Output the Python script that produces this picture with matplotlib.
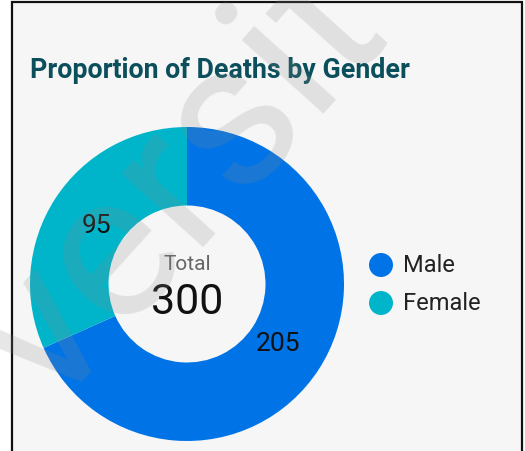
import matplotlib.pyplot as plt
from matplotlib.patches import Rectangle, Ellipse

# data
labels = ['Male', 'Female']
deaths = [205, 95]
colors = ['#0073e6', '#00b5c9']
total = sum(deaths)

W, H = 525, 452
fig = plt.figure(figsize=(W / 100, H / 100), dpi=100)
fig.patch.set_facecolor('white')

# card background + border (bottom edge cut off)
fig.patches.append(Rectangle((12 / W, -0.05), 510 / W, 1.05 - 3 / H,
                             transform=fig.transFigure, facecolor='#f6f6f6',
                             edgecolor='#111111', linewidth=1.6, zorder=-5))

fig.text(30 / W, 1 - 70 / H, 'Proportion of Deaths by Gender', fontsize=19.3,
         fontweight='bold', color='#0b4f5c', family='Roboto', va='center', ha='left')

# donut
ax = fig.add_axes([30 / W, 1 - 442 / H, 314 / W, 314 / H])
ax.set_zorder(1)
wedges, texts, autotexts = ax.pie(
    deaths, colors=colors, startangle=90, counterclock=False,
    wedgeprops=dict(width=0.5, linewidth=0),
    autopct=lambda p: f'{p * total / 100:.0f}', pctdistance=0.69,
    textprops=dict(fontsize=19, color='#111111', family='Roboto'))
ax.set_xlim(-1, 1)
ax.set_ylim(-1, 1)
ax.set_aspect('equal')
ax.axis('off')

ax.text(0, 0.13, 'Total', ha='center', va='center', fontsize=15,
        color='#666666', family='Roboto')
ax.text(0, -0.11, f'{total}', ha='center', va='center', fontsize=31,
        color='#111111', family='Roboto')

# legend
for i, (lab, c) in enumerate(zip(labels, colors)):
    y = 1 - (266 + 38 * i) / H
    fig.patches.append(Ellipse((381 / W, y), 24 / W, 24 / H, transform=fig.transFigure,
                               facecolor=c, edgecolor='none'))
    fig.text(403 / W, y, lab, fontsize=17, color='#222222', family='Roboto',
             va='center', ha='left')

# watermark
fig.text(180 / W, 1 - 185 / H, 'versit', fontsize=150, color='#888888',
         alpha=0.2, rotation=48, ha='center', va='center', family='Roboto',
         zorder=10)

fig.savefig('out.png', dpi=100, facecolor=fig.get_facecolor())
